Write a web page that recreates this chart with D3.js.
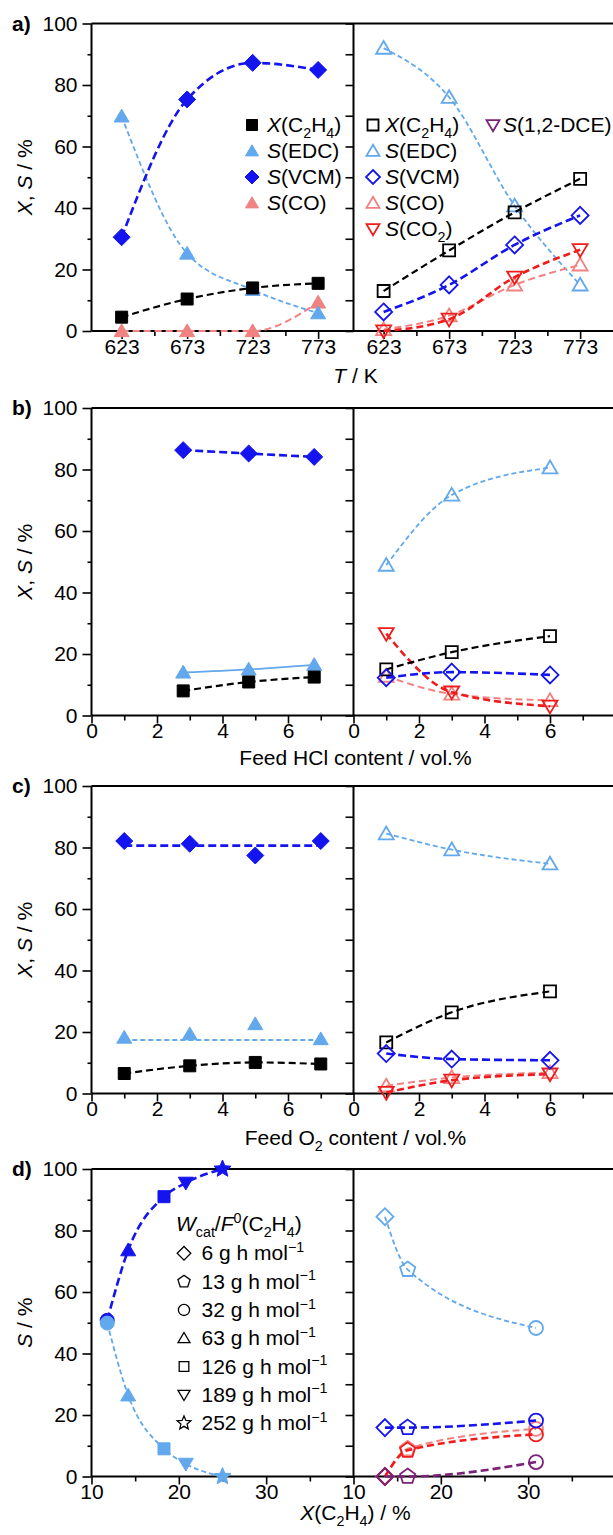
<!DOCTYPE html>
<html>
<head>
<meta charset="utf-8">
<script src="https://cdn.jsdelivr.net/npm/d3@7"></script>
<style>
  body { margin: 0; background: #fff; }
  svg text { font-family: "Liberation Sans", Arial, sans-serif; fill: #000; }
</style>
</head>
<body>
<div id="chart"></div>
<script>
// ---------- data ----------
const yMajor = [0, 20, 40, 60, 80, 100];
const yMinor = [10, 30, 50, 70, 90];

// a) temperature
const tempK = [623, 673, 723, 773];
const tempMinor = [648, 698, 748];
const aFillX = [4.5, 10.4, 14.0, 15.5];
const aFillEDC = [69.8, 25.2, 13.4, 5.8];
const aFillVCM = [30.5, 75.3, 87.2, 84.9];
const aFillCO = [0, 0, 0, 9.3];
const aOpenX = [13.0, 26.2, 38.6, 49.5];
const aOpenEDC = [92.0, 76.0, 40.7, 15.0];
const aOpenVCM = [6.2, 15.0, 28.0, 37.6];
const aOpenCO = [0.5, 5.0, 15.0, 21.5];
const aOpenCO2 = [0, 3.8, 17.5, 26.4];

// b) feed HCl
const feedTicks = [0, 2, 4, 6];
const feedMinor = [1, 3, 5, 7];
const hclLeft = [2.8, 4.8, 6.8];
const hclRight = [1, 3, 6];
const bFillX = [8.0, 10.9, 12.5];
const bFillEDC = [14.0, 15.0, 16.5];
const bFillVCM = [86.3, 85.2, 84.1];
const bOpenX = [15.0, 20.6, 25.8];
const bOpenEDC = [48.9, 71.7, 80.6];
const bOpenVCM = [12.3, 14.1, 13.2];
const bOpenCO = [12.8, 7.0, 4.9];
const bOpenCO2 = [26.6, 7.6, 3.0];

// c) feed O2
const o2Left = [1, 3, 5, 7];
const o2Right = [1, 3, 6];
const o2FitX = [1, 7];
const cFillX = [6.5, 9.0, 10.1, 9.6];
const cFillEDC = [18.2, 19.3, 22.6, 17.7];
const cFillVCM = [82.1, 81.2, 77.4, 82.1];
const cFitEDC = [17.4, 17.4];
const cFitVCM = [80.6, 80.6];
const cOpenX = [16.6, 26.4, 33.2];
const cOpenEDC = [84.5, 79.3, 74.7];
const cOpenVCM = [13.0, 11.2, 10.8];
const cOpenCO = [2.5, 5.2, 6.8];
const cOpenCO2 = [0.3, 4.3, 6.3];

// d) selectivity vs conversion
const convTicks = [10, 20, 30];
const convMinor = [15, 25, 35];
const dConvLeft = [11.8, 14.2, 18.3, 20.8, 25.0];
const dShapeLeft = ["circle", "triangle", "square", "triangleDown", "star"];
const dFillVCM = [50.8, 73.6, 91.0, 95.5, 100];
const dFillEDC = [49.9, 26.4, 9.0, 4.1, 0];
const dConvRight = [13.6, 16.2, 30.9];
const dShapeRight = ["diamond", "pentagon", "circle"];
const dOpenEDC = [84.5, 67.3, 48.3];
const dOpenVCM = [15.9, 15.9, 18.2];
const dOpenCO = [0, 9.0, 15.5];
const dOpenCO2 = [0, 8.5, 13.7];
const dOpenDCE = [0, 0, 4.7];
const wcatValues = ["6", "13", "32", "63", "126", "189", "252"];
const wcatShapes = ["diamond", "pentagon", "circle", "triangle", "square", "triangleDown", "star"];

const speciesLabel = {
  X: "*X*(C_{2}H_{4})", EDC: "*S*(EDC)", VCM: "*S*(VCM)",
  CO: "*S*(CO)", CO2: "*S*(CO_{2})", DCE: "*S*(1,2-DCE)"
};

// ---------- layout / style ----------
const W = 613, H = 1535;
const xLeft0 = 91.5, xDiv = 353.5, xRight1 = 615.5;
const plotH = 307.5;
const fs = 21;

const colors = { X: "#000000", EDC: "#62a8ec", VCM: "#1414ee", CO: "#f08282", CO2: "#f01c1c", DCE: "#7a2278" };
const lineStyle = {
  X: { w: 2.2, d: "7,4" }, EDC: { w: 1.8, d: "5,3" }, VCM: { w: 2.6, d: "8,4" },
  CO: { w: 2.0, d: "7,4" }, CO2: { w: 2.6, d: "7,4" }, DCE: { w: 2.6, d: "8,4" }
};
const markerR = { square: 6, diamond: 8.5, triangle: 7.5, triangleDown: 7.5, circle: 7, pentagon: 8, star: 9 };

const panels = [
  {
    top: 23.5, label: "a)", yTitle: "*X*, *S* / %", xTitle: "*T* / K", xTitleY: 383,
    domain: [600, 800], major: tempK, minor: tempMinor,
    left: { x: tempK, series: [
      { k: "CO", y: aFillCO, m: "triangle" },
      { k: "EDC", y: aFillEDC, m: "triangle" },
      { k: "X", y: aFillX, m: "square" },
      { k: "VCM", y: aFillVCM, m: "diamond" } ] },
    right: { x: tempK, series: [
      { k: "EDC", y: aOpenEDC, m: "triangle" },
      { k: "CO", y: aOpenCO, m: "triangle" },
      { k: "CO2", y: aOpenCO2, m: "triangleDown" },
      { k: "VCM", y: aOpenVCM, m: "diamond" },
      { k: "X", y: aOpenX, m: "square" } ] }
  },
  {
    top: 408, label: "b)", yTitle: "*X*, *S* / %", xTitle: "Feed HCl content / vol.%", xTitleY: 765,
    domain: [0, 8], major: feedTicks, minor: feedMinor,
    left: { x: hclLeft, series: [
      { k: "EDC", y: bFillEDC, m: "triangle", solid: true },
      { k: "X", y: bFillX, m: "square" },
      { k: "VCM", y: bFillVCM, m: "diamond" } ] },
    right: { x: hclRight, series: [
      { k: "EDC", y: bOpenEDC, m: "triangle" },
      { k: "CO", y: bOpenCO, m: "triangle" },
      { k: "CO2", y: bOpenCO2, m: "triangleDown" },
      { k: "X", y: bOpenX, m: "square" },
      { k: "VCM", y: bOpenVCM, m: "diamond" } ] }
  },
  {
    top: 786, label: "c)", yTitle: "*X*, *S* / %", xTitle: "Feed O_{2} content / vol.%", xTitleY: 1145,
    domain: [0, 8], major: feedTicks, minor: feedMinor,
    left: { x: o2Left, series: [
      { k: "EDC", y: cFillEDC, m: "triangle", fitX: o2FitX, fitY: cFitEDC },
      { k: "X", y: cFillX, m: "square" },
      { k: "VCM", y: cFillVCM, m: "diamond", fitX: o2FitX, fitY: cFitVCM } ] },
    right: { x: o2Right, series: [
      { k: "EDC", y: cOpenEDC, m: "triangle" },
      { k: "CO", y: cOpenCO, m: "triangle" },
      { k: "CO2", y: cOpenCO2, m: "triangleDown" },
      { k: "X", y: cOpenX, m: "square" },
      { k: "VCM", y: cOpenVCM, m: "diamond" } ] }
  },
  {
    top: 1169, label: "d)", yTitle: "*S* / %", xTitle: "*X*(C_{2}H_{4}) / %", xTitleY: 1520,
    domain: [10, 40], major: convTicks, minor: convMinor,
    left: { x: dConvLeft, series: [
      { k: "VCM", y: dFillVCM, m: dShapeLeft },
      { k: "EDC", y: dFillEDC, m: dShapeLeft } ] },
    right: { x: dConvRight, series: [
      { k: "EDC", y: dOpenEDC, m: dShapeRight },
      { k: "CO", y: dOpenCO, m: dShapeRight },
      { k: "CO2", y: dOpenCO2, m: dShapeRight },
      { k: "VCM", y: dOpenVCM, m: dShapeRight },
      { k: "DCE", y: dOpenDCE, m: dShapeRight } ] }
  }
];

// ---------- helpers ----------
function markerPath(shape, r) {
  const p = d3.path();
  if (shape === "circle") { p.moveTo(r, 0); p.arc(0, 0, r, 0, 2 * Math.PI); }
  else if (shape === "square") { p.rect(-r, -r, 2 * r, 2 * r); }
  else if (shape === "diamond") { p.moveTo(0, -r); p.lineTo(r, 0); p.lineTo(0, r); p.lineTo(-r, 0); p.closePath(); }
  else if (shape === "triangle") { p.moveTo(0, -0.95 * r); p.lineTo(r, 0.75 * r); p.lineTo(-r, 0.75 * r); p.closePath(); }
  else if (shape === "triangleDown") { p.moveTo(0, 0.95 * r); p.lineTo(r, -0.75 * r); p.lineTo(-r, -0.75 * r); p.closePath(); }
  else {
    const n = shape === "star" ? 10 : 5;
    for (let k = 0; k < n; k++) {
      const a = -Math.PI / 2 + k * 2 * Math.PI / n;
      const rr = (shape === "star" && k % 2) ? r * 0.45 : r;
      if (k) p.lineTo(rr * Math.cos(a), rr * Math.sin(a)); else p.moveTo(rr * Math.cos(a), rr * Math.sin(a));
    }
    p.closePath();
  }
  return p.toString();
}

// tiny markup: *italic*, _{sub}, ^{sup}
function parseRich(str) {
  const parts = [];
  let buf = "", italic = false, i = 0;
  const flush = () => { if (buf) parts.push({ t: buf, i: italic }); buf = ""; };
  while (i < str.length) {
    const c = str[i];
    if (c === "*") { flush(); italic = !italic; i++; }
    else if ((c === "_" || c === "^") && str[i + 1] === "{") {
      flush();
      const j = str.indexOf("}", i);
      parts.push({ t: str.slice(i + 2, j), i: italic, s: c });
      i = j + 1;
    } else { buf += c; i++; }
  }
  flush();
  return parts;
}

function richText(g, str, x, y, size, anchor) {
  const t = g.append("text").attr("x", x).attr("y", y).attr("font-size", size)
    .attr("text-anchor", anchor || "start");
  let shift = 0;
  parseRich(str).forEach(part => {
    const ts = t.append("tspan").text(part.t);
    if (part.i) ts.attr("font-style", "italic");
    let target = 0;
    if (part.s === "_") target = size * 0.28;
    if (part.s === "^") target = -size * 0.4;
    if (part.s) ts.attr("font-size", size * 0.68);
    if (target !== shift) { ts.attr("dy", target - shift); shift = target; }
  });
  return t;
}

function styleAxis(sel) {
  sel.select(".domain").remove();
  sel.attr("font-size", fs).attr("font-family", "'Liberation Sans', Arial, sans-serif");
  sel.selectAll("line").attr("stroke", "#000").attr("stroke-width", 1.6);
  sel.selectAll("text").attr("fill", "#000");
}

function drawSide(g, side, x, y, filled) {
  side.series.forEach(s => {
    const st = lineStyle[s.k], col = colors[s.k];
    const pts = side.x.map((xv, i) => ({ x: xv, y: s.y[i], m: Array.isArray(s.m) ? s.m[i] : s.m }));
    const linePts = s.fitX ? s.fitX.map((xv, i) => ({ x: xv, y: s.fitY[i] })) : pts;
    const line = d3.line().x(d => x(d.x)).y(d => y(d.y))
      .curve(s.fitX ? d3.curveLinear : d3.curveMonotoneX);
    g.append("path").datum(linePts)
      .attr("d", line)
      .attr("fill", "none")
      .attr("stroke", col)
      .attr("stroke-width", st.w)
      .attr("stroke-dasharray", s.solid ? null : st.d);
    g.selectAll(null).data(pts).enter().append("path")
      .attr("transform", d => `translate(${x(d.x)},${y(d.y)})`)
      .attr("d", d => markerPath(d.m, markerR[d.m]))
      .attr("fill", filled ? col : "none")
      .attr("stroke", col)
      .attr("stroke-width", filled ? 1 : 1.8);
  });
}

function drawAxes(g, p, xL, xR, y) {
  g.append("g").attr("transform", `translate(${xLeft0},0)`)
    .call(d3.axisLeft(y).tickValues(yMajor).tickSize(9).tickPadding(5)).call(styleAxis);
  g.append("g").attr("transform", `translate(${xLeft0},0)`)
    .call(d3.axisLeft(y).tickValues(yMinor).tickSize(4).tickFormat("")).call(styleAxis);
  g.append("g").attr("transform", `translate(${xDiv},0)`)
    .call(d3.axisLeft(y).tickValues(yMajor.concat(yMinor)).tickSize(8).tickFormat("")).call(styleAxis);
  const yb = p.top + plotH;
  [xL, xR].forEach(x => {
    g.append("g").attr("transform", `translate(0,${yb})`)
      .call(d3.axisBottom(x).tickValues(p.major).tickSize(8).tickPadding(0)).call(styleAxis);
    g.append("g").attr("transform", `translate(0,${yb})`)
      .call(d3.axisBottom(x).tickValues(p.minor).tickSize(5).tickFormat("")).call(styleAxis);
  });
  // frame
  const frame = [
    [xLeft0, p.top, xRight1, p.top], [xLeft0, yb, xRight1, yb],
    [xLeft0, p.top, xLeft0, yb], [xDiv, p.top, xDiv, yb], [xRight1, p.top, xRight1, yb]
  ];
  g.selectAll(null).data(frame).enter().append("line")
    .attr("x1", d => d[0]).attr("y1", d => d[1]).attr("x2", d => d[2]).attr("y2", d => d[3])
    .attr("stroke", "#000").attr("stroke-width", 2);
}

function drawLegend(g, keys, sx, tx, y0, step, filled) {
  keys.forEach((k, i) => {
    const cy = y0 + i * step;
    const shape = { X: "square", EDC: "triangle", VCM: "diamond", CO: "triangle", CO2: "triangleDown", DCE: "triangleDown" }[k];
    const r = { square: 5.5, triangle: 6.5, diamond: 7, triangleDown: 6.5 }[shape];
    g.append("path").attr("transform", `translate(${sx},${cy})`)
      .attr("d", markerPath(shape, r))
      .attr("fill", filled ? colors[k] : "none")
      .attr("stroke", colors[k]).attr("stroke-width", filled ? 1 : 1.8);
    richText(g, speciesLabel[k], tx, cy + 7, fs);
  });
}

// ---------- draw ----------
const svg = d3.select("#chart").append("svg").attr("width", W).attr("height", H);

panels.forEach(p => {
  const g = svg.append("g");
  const y = d3.scaleLinear().domain([0, 100]).range([p.top + plotH, p.top]);
  const xL = d3.scaleLinear().domain(p.domain).range([xLeft0, xDiv]);
  const xR = d3.scaleLinear().domain(p.domain).range([xDiv, xRight1]);

  drawAxes(g, p, xL, xR, y);
  drawSide(g, p.left, xL, y, true);
  drawSide(g, p.right, xR, y, false);

  g.append("text").attr("x", 12).attr("y", p.top + 7).attr("font-size", fs)
    .attr("font-weight", "bold").text(p.label);
  const yt = richText(g, p.yTitle, 0, 0, fs, "middle");
  yt.attr("transform", `translate(31.5,${p.top + plotH / 2}) rotate(-90)`);
  richText(g, p.xTitle, xDiv + 2, p.xTitleY, fs, "middle");
});

// legends
drawLegend(svg, ["X", "EDC", "VCM", "CO"], 252, 267, 125, 26, true);
drawLegend(svg, ["X", "EDC", "VCM", "CO", "CO2"], 373, 385, 125, 26, false);
drawLegend(svg, ["DCE"], 493, 503, 125, 26, false);

richText(svg, "*W*_{cat}/*F*^{0}(C_{2}H_{4})", 176, 1231, fs);
wcatValues.forEach((v, i) => {
  const cy = 1253.3 + i * 28.3;
  const shape = wcatShapes[i];
  svg.append("path").attr("transform", `translate(184,${cy})`)
    .attr("d", markerPath(shape, markerR[shape] * 0.8))
    .attr("fill", "none").attr("stroke", "#000").attr("stroke-width", 1.3);
  richText(svg, v + " g h mol^{\u22121}", 201.5, cy + 7, fs);
});
</script>
</body>
</html>
